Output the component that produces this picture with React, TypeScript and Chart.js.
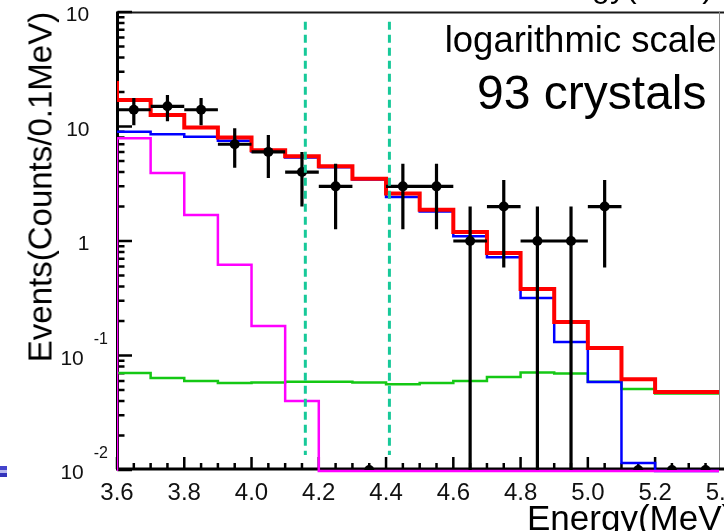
import React, { useEffect, useRef } from 'react';
import { Chart, registerables } from 'chart.js';

Chart.register(...registerables);

// ---------------- data ----------------
const binStarts = [3.6, 3.7, 3.8, 3.9, 4.0, 4.1, 4.2, 4.3, 4.4, 4.5, 4.6, 4.7, 4.8, 4.9, 5.0, 5.1, 5.2, 5.3];
const binWidth = 0.1;
// red: total fit
const totalFit = [17.0, 12.6, 9.8, 8.0, 6.2, 5.5, 4.5, 3.5, 2.6, 1.87, 1.2, 0.785, 0.38, 0.196, 0.116, 0.062, 0.048, 0.048];
const totalFitBelowRange = 24; // bin 3.5-3.6, only its edge is seen
// blue component
const blueFit = [9.0, 8.55, 8.15, 7.5, 6.05, 5.35, 4.4, 3.45, 2.42, 1.81, 1.1, 0.72, 0.318, 0.131, 0.0586, 0.0115, 0, 0];
// green component
const greenFit = [0.0703, 0.0636, 0.06, 0.0575, 0.058, 0.059, 0.059, 0.058, 0.056, 0.0575, 0.06, 0.065, 0.0709, 0.0695, 0.059, 0.051, 0.0465, 0.0465];
// magenta component
const magentaFit = [7.9, 3.93, 1.69, 0.62, 0.181, 0.04, 0, 0, 0, 0, 0, 0, 0, 0, 0, 0, 0, 0];
// black points: counts per bin
const eventCounts = [14, 15, 14, 7, 6, 4, 3, 0, 3, 3, 1, 2, 1, 1, 2, 0, 0, 0];
// dashed window
const windowEdges = [4.16, 4.41];
const windowSpan = [0.0135, 82];
// axes
const xRange = [3.6, 5.39];
const yRange = [0.01, 100];
const xTickLabels = ['3.6', '3.8', '4.0', '4.2', '4.4', '4.6', '4.8', '5.0', '5.2', '5.4'];
const yTickValues = [0.01, 0.1, 1, 10, 100];
const yTickBase = ['10', '10', '1', '10', '10'];
const yTickExp = ['-2', '-1', '', '', '2'];
// texts
const titleY = 'Events(Counts/0.1MeV)';
const titleX = 'Energy(MeV)';
const noteScale = 'logarithmic scale';
const noteCrystals = '93 crystals';

// ---------------- helpers ----------------
const FONT = '"Liberation Sans", Arial, Helvetica, sans-serif';
const FLOOR = 0.0098;

type P = { x: number; y: number | null };

function histPoints(vals: number[], start: 'floor' | 'flat' | number): P[] {
  const pts: P[] = [];
  if (typeof start === 'number') pts.push({ x: binStarts[0] - binWidth, y: start });
  else if (start === 'floor') pts.push({ x: binStarts[0], y: FLOOR });
  vals.forEach((v, i) => pts.push({ x: binStarts[i], y: v > 0 ? v : FLOOR }));
  const last = vals[vals.length - 1];
  pts.push({ x: binStarts[binStarts.length - 1] + binWidth, y: last > 0 ? last : FLOOR });
  return pts;
}

function markerPoints(): P[] {
  return eventCounts.map((n, i) => ({ x: binStarts[i] + binWidth / 2, y: n > 0 ? n : yRange[0] }));
}

function errorPoints(): P[] {
  const pts: P[] = [];
  eventCounts.forEach((n, i) => {
    if (n <= 0) return;
    const c = binStarts[i] + binWidth / 2;
    const e = Math.sqrt(n);
    const lo = n - e > 0 ? n - e : 0.001;
    pts.push({ x: c, y: lo }, { x: c, y: n + e }, { x: c, y: null });
    pts.push({ x: c - binWidth / 2, y: n }, { x: c + binWidth / 2, y: n }, { x: c, y: null });
  });
  return pts;
}

function windowPoints(): P[] {
  const pts: P[] = [];
  windowEdges.forEach((x, i) => {
    if (i > 0) pts.push({ x, y: null });
    pts.push({ x, y: windowSpan[1] }, { x, y: windowSpan[0] });
  });
  return pts;
}

const frameAndTicks = {
  id: 'frameAndTicks',
  beforeDatasetsDraw(chart: any) {
    const { ctx, chartArea: a, scales } = chart;
    const xs = scales.x;
    const ys = scales.y;
    const W = chart.width;
    const axisX = a.left + 0.5;
    const axisY = a.bottom - 1;
    ctx.save();

    // top frame + right frame
    ctx.strokeStyle = '#1a1a1a';
    ctx.lineWidth = 2;
    ctx.beginPath();
    ctx.moveTo(a.left, a.top + 0.5);
    ctx.lineTo(W, a.top + 0.5);
    ctx.stroke();
    ctx.strokeStyle = '#8a8a8a';
    ctx.lineWidth = 1;
    ctx.beginPath();
    ctx.moveTo(a.right + 0.5, a.top);
    ctx.lineTo(a.right + 0.5, a.bottom);
    ctx.stroke();

    // axes
    ctx.strokeStyle = '#000';
    ctx.lineWidth = 3;
    ctx.beginPath();
    ctx.moveTo(axisX, a.top - 0.5);
    ctx.lineTo(axisX, axisY + 1.5);
    ctx.moveTo(a.left - 1, axisY);
    ctx.lineTo(W, axisY);
    ctx.stroke();

    // x ticks
    ctx.lineWidth = 2.5;
    ctx.beginPath();
    for (let k = 0; ; k++) {
      const v = xRange[0] + k * 0.05;
      if (v > xRange[1] + 1e-6) break;
      const px = xs.getPixelForValue(v);
      const len = k % 4 === 0 ? 12 : 6;
      ctx.moveTo(px, axisY);
      ctx.lineTo(px, axisY - len);
    }
    // y ticks
    for (let d = 0; d < yTickValues.length; d++) {
      const dec = yTickValues[d];
      const maxM = d === yTickValues.length - 1 ? 1 : 9;
      for (let m = 1; m <= maxM; m++) {
        const py = ys.getPixelForValue(dec * m);
        const len = m === 1 ? 14.5 : 7;
        ctx.moveTo(axisX, py);
        ctx.lineTo(axisX + len, py);
      }
    }
    ctx.stroke();

    // x labels
    ctx.fillStyle = '#111';
    ctx.textAlign = 'center';
    ctx.textBaseline = 'alphabetic';
    ctx.font = `24px ${FONT}`;
    xTickLabels.forEach((t) => {
      const px = xs.getPixelForValue(parseFloat(t));
      ctx.fillText(t, px, a.bottom + 30);
    });

    // y labels
    ctx.textAlign = 'right';
    yTickValues.forEach((v, i) => {
      const py = ys.getPixelForValue(v);
      const exp = yTickExp[i];
      if (exp) {
        ctx.font = `16px ${FONT}`;
        const ew = ctx.measureText(exp).width;
        ctx.fillText(exp, 108, py - 12);
        ctx.font = `21px ${FONT}`;
        ctx.fillText(yTickBase[i], 108 - ew - 10, py + 9);
      } else {
        ctx.font = `21px ${FONT}`;
        ctx.fillText(yTickBase[i], 89.5, py + 9);
      }
    });
    ctx.restore();
  },
};

const histClip = { left: 0, top: 0, right: 0, bottom: 3 };

export default function App() {
  const ref = useRef<HTMLCanvasElement>(null);

  useEffect(() => {
    if (!ref.current) return;
    const chart = new Chart(ref.current, {
      type: 'line',
      data: {
        datasets: [
          {
            label: 'window',
            data: windowPoints() as any,
            borderColor: '#17c999',
            borderWidth: 3,
            borderDash: [8, 5],
            pointRadius: 0,
            order: 0,
            clip: 0 as any,
          },
          {
            label: 'data',
            data: markerPoints() as any,
            showLine: false,
            pointRadius: 5,
            pointBackgroundColor: '#000',
            pointBorderWidth: 0,
            borderColor: '#000',
            order: 1,
            clip: 0 as any,
          },
          {
            label: 'errors',
            data: errorPoints() as any,
            borderColor: '#000',
            borderWidth: 3.2,
            pointRadius: 0,
            spanGaps: false,
            order: 2,
            clip: 0 as any,
          },
          {
            label: 'total',
            data: histPoints(totalFit, totalFitBelowRange) as any,
            borderColor: '#ff0000',
            borderWidth: 4,
            stepped: 'before',
            pointRadius: 0,
            order: 3,
            clip: histClip as any,
          },
          {
            label: 'magenta',
            data: histPoints(magentaFit, 'floor') as any,
            borderColor: '#ff00ff',
            borderWidth: 2.5,
            stepped: 'before',
            pointRadius: 0,
            order: 4,
            clip: histClip as any,
          },
          {
            label: 'blue',
            data: histPoints(blueFit, 'flat') as any,
            borderColor: '#0000ff',
            borderWidth: 2.5,
            stepped: 'before',
            pointRadius: 0,
            order: 5,
            clip: histClip as any,
          },
          {
            label: 'green',
            data: histPoints(greenFit, 'flat') as any,
            borderColor: '#14c814',
            borderWidth: 2.5,
            stepped: 'before',
            pointRadius: 0,
            order: 6,
            clip: histClip as any,
          },
        ],
      },
      options: {
        responsive: false,
        animation: false,
        events: [],
        layout: { padding: { left: 117, top: 12, right: 2, bottom: 61 } },
        scales: {
          x: { type: 'linear', min: xRange[0], max: xRange[1], display: false },
          y: { type: 'logarithmic', min: yRange[0], max: yRange[1], display: false },
        },
        plugins: { legend: { display: false }, tooltip: { enabled: false } },
        elements: { line: { tension: 0 } },
      },
      plugins: [frameAndTicks],
    });
    return () => chart.destroy();
  }, []);

  const text = (extra: React.CSSProperties): React.CSSProperties => ({
    position: 'absolute',
    whiteSpace: 'nowrap',
    color: '#000',
    fontFamily: FONT,
    ...extra,
  });

  return (
    <div
      style={{
        position: 'absolute',
        left: 0,
        top: 0,
        width: 724,
        height: 531,
        overflow: 'hidden',
        background: '#fff',
      }}
    >
      <canvas
        ref={ref}
        width={724}
        height={531}
        style={{ position: 'absolute', left: 0, top: 0, width: 724, height: 531 }}
      />
      <div style={text({ right: 7.5, top: 21.6, fontSize: 36.5, lineHeight: '36.5px' })}>{noteScale}</div>
      <div style={text({ right: 17.5, top: 69.4, fontSize: 48, lineHeight: '48px' })}>{noteCrystals}</div>
      <div style={text({ left: 527, top: 500.4, fontSize: 35, lineHeight: '35px' })}>{titleX}</div>
      <div style={text({ right: 11, top: -30, fontSize: 32, lineHeight: '32px' })}>{titleX}</div>
      <div
        style={text({
          left: 39.6,
          top: 187,
          width: 420,
          textAlign: 'center',
          fontSize: 33,
          lineHeight: '33px',
          transform: 'translate(-50%, -50%) rotate(-90deg)',
        })}
      >
        {titleY}
      </div>
      <div style={{ position: 'absolute', left: 0, top: 466, width: 7, height: 4, background: '#4444cc' }} />
      <div style={{ position: 'absolute', left: 0, top: 470, width: 7, height: 3, background: '#b8b8ee' }} />
      <div style={{ position: 'absolute', left: 0, top: 473, width: 7, height: 4, background: '#3333bb' }} />
    </div>
  );
}
